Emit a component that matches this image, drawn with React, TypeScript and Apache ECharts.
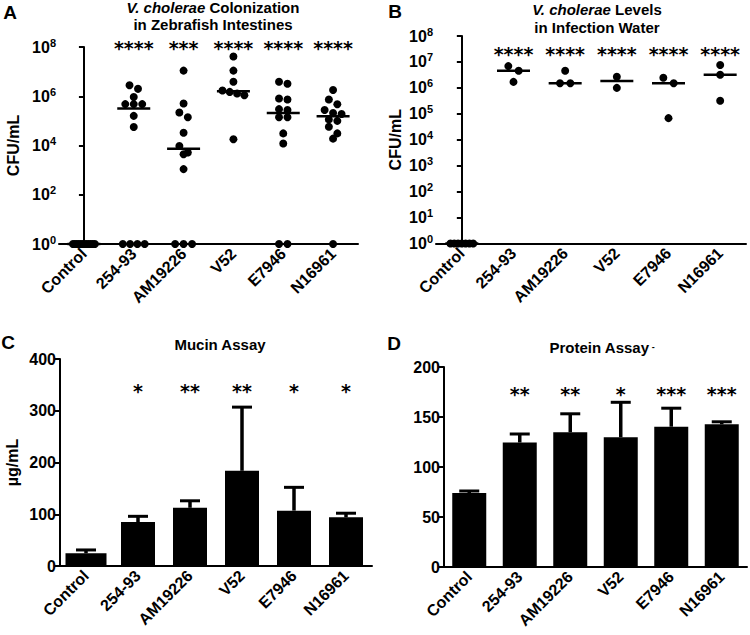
import React, { useEffect, useRef } from 'react';
import * as echarts from 'echarts';

// ---------- data ----------
const categories = ['Control', '254-93', 'AM19226', 'V52', 'E7946', 'N16961'];

// Panel A: CFU/mL in zebrafish intestines (undetected plotted at 10^0)
const colonControl = [1, 1, 1, 1, 1, 1, 1, 1, 1, 1, 1, 1];
const colon25493 = [2.8e6, 2.0e6, 9.3e5, 4.8e5, 4.8e5, 4.8e5, 1.6e5, 5.6e4, 1, 1, 1, 1];
const colonAM19226 = [1.1e7, 5.1e5, 2.2e5, 1.4e5, 3.3e4, 9.5e3, 5.2e3, 4.4e3, 1.1e3, 1, 1, 1];
const colonV52 = [4.1e7, 1.1e7, 3.9e6, 1.7e6, 1.5e6, 1.3e6, 1.1e6, 1.8e4];
const colonE7946 = [3.9e6, 3.2e6, 8.1e5, 7.4e5, 3.0e5, 2.75e5, 1.4e5, 1.4e5, 3.1e4, 1.2e4, 1, 1];
const colonN16961 = [1.8e6, 7.4e5, 4.7e5, 2.75e5, 2.1e5, 1.9e5, 1.15e5, 1.0e5, 5.8e4, 3.1e4, 1.9e4, 1];
const colonStars = ['', '****', '***', '****', '****', '****'];

// Panel B: CFU/mL in infection water
const waterControl = [1, 1, 1, 1, 1, 1, 1];
const water25493 = [6.9e6, 4.6e6, 1.7e6];
const waterAM19226 = [4.6e6, 1.5e6, 1.5e6];
const waterV52 = [2.7e6, 1.0e6];
const waterE7946 = [2.45e6, 1.5e6, 6.8e4];
const waterN16961 = [7.6e6, 3.2e6, 3.2e5];
const waterStars = ['', '****', '****', '****', '****', '****'];

// Panel C: mucin (µg/mL), mean and SD
const mucinMean = [24.5, 85, 112.5, 184, 107, 94];
const mucinSD = [6.5, 11, 13.5, 123, 45, 8];
const mucinStars = ['', '*', '**', '**', '*', '*'];

// Panel D: protein, mean and SD
const proteinMean = [74, 124.5, 134.7, 129.7, 140.3, 142.7];
const proteinSD = [2, 8.5, 18.5, 35, 18.5, 2.5];
const proteinStars = ['', '**', '**', '*', '***', '***'];

const colonization = [colonControl, colon25493, colonAM19226, colonV52, colonE7946, colonN16961];
const water = [waterControl, water25493, waterAM19226, waterV52, waterE7946, waterN16961];

// ---------- helpers ----------
const FONT = '"Liberation Sans", Arial, Helvetica, sans-serif';
const STAR_FONT = '"DejaVu Sans", sans-serif';
const BLACK = '#000';

function median(vals: number[]) {
  const s = [...vals].sort((a, b) => a - b);
  const n = s.length;
  return n % 2 ? s[(n - 1) / 2] : (s[n / 2 - 1] + s[n / 2]) / 2;
}

// simple symmetric swarm: points closer than thr (in decades) share a row
function swarm(vals: number[], thr: number, step: number, maxHalf: number) {
  const logs = vals.map((v) => Math.log10(v));
  const idx = vals.map((_, i) => i).sort((a, b) => logs[b] - logs[a]);
  const off = new Array(vals.length).fill(0);
  let i = 0;
  while (i < idx.length) {
    let j = i + 1;
    while (j < idx.length && logs[idx[i]] - logs[idx[j]] < thr) j++;
    const n = j - i;
    const s = n > 1 ? Math.min(step, (2 * maxHalf) / (n - 1)) : 0;
    for (let k = 0; k < n; k++) off[idx[i + k]] = (k - (n - 1) / 2) * s;
    i = j;
  }
  return off;
}

const lineStyle = { color: BLACK, width: 2 };

function catAxis(gridIndex: number) {
  return {
    type: 'category',
    gridIndex,
    data: categories,
    axisLine: { lineStyle },
    axisTick: { alignWithLabel: true, length: 5, lineStyle },
    axisLabel: {
      interval: 0,
      rotate: 45,
      margin: 7,
      color: BLACK,
      fontFamily: FONT,
      fontWeight: 'bold',
      fontSize: 16,
    },
  };
}

function jitterAxis(gridIndex: number) {
  return { type: 'value', gridIndex, min: -0.5, max: 5.5, show: false };
}

const tickLabel = { color: BLACK, fontFamily: FONT, fontWeight: 'bold', fontSize: 16 };
const nameStyle = { color: BLACK, fontFamily: FONT, fontWeight: 'bold', fontSize: 16 };

function logAxis(gridIndex: number, interval: number, name: string, nameGap: number) {
  return {
    type: 'log',
    logBase: 10,
    gridIndex,
    min: 1,
    max: 1e8,
    interval,
    axisLine: { show: true, lineStyle },
    axisTick: { show: true, length: 5, lineStyle },
    splitLine: { show: false },
    minorTick: { show: false },
    axisLabel: {
      margin: 3,
      formatter: (v: number) => `{b|10}{s|${Math.round(Math.log10(v))}}`,
      rich: {
        b: { ...tickLabel, fontSize: 16, lineHeight: 20 },
        s: { ...tickLabel, fontSize: 11, lineHeight: 12, verticalAlign: 'top' },
      },
    },
    name,
    nameLocation: 'middle',
    nameGap,
    nameTextStyle: nameStyle,
  };
}

function linAxis(gridIndex: number, max: number, interval: number, name: string, nameGap: number) {
  return {
    type: 'value',
    gridIndex,
    min: 0,
    max,
    interval,
    axisLine: { show: true, lineStyle },
    axisTick: { show: true, length: 5, lineStyle },
    splitLine: { show: false },
    axisLabel: { ...tickLabel, margin: 4 },
    name,
    nameLocation: 'middle',
    nameGap,
    nameTextStyle: nameStyle,
  };
}

function dotSeries(groups: number[][], xAxisIndex: number, yAxisIndex: number, step: number) {
  const data: number[][] = [];
  groups.forEach((vals, gi) => {
    const off = swarm(vals, 0.28, step, 0.22);
    vals.forEach((v, k) => data.push([gi + off[k], v]));
  });
  return {
    type: 'scatter',
    xAxisIndex,
    yAxisIndex,
    data,
    symbol: 'circle',
    symbolSize: 8,
    itemStyle: { color: BLACK, opacity: 1 },
    clip: false,
    z: 4,
  };
}

function medianSeries(groups: number[][], xAxisIndex: number, yAxisIndex: number) {
  return {
    type: 'scatter',
    xAxisIndex,
    yAxisIndex,
    data: groups.map((g, i) => [i, median(g)]),
    symbol: 'rect',
    symbolSize: [33, 2.5],
    itemStyle: { color: BLACK, opacity: 1 },
    clip: false,
    z: 3,
  };
}

function starSeries(stars: string[], yVal: number, xAxisIndex: number, yAxisIndex: number) {
  return {
    type: 'custom',
    xAxisIndex,
    yAxisIndex,
    encode: { x: 0, y: 1 },
    data: categories.map((_, i) => [i, yVal]),
    clip: false,
    silent: true,
    renderItem: (params: any, api: any) => {
      const p = api.coord([api.value(0), api.value(1)]);
      return {
        type: 'text',
        x: p[0],
        y: p[1],
        style: {
          text: stars[params.dataIndex],
          fill: BLACK,
          fontFamily: STAR_FONT,
          fontWeight: 'bold',
          fontSize: 19,
          textAlign: 'center',
          align: 'center',
          textVerticalAlign: 'middle',
          verticalAlign: 'middle',
        },
      };
    },
    z: 5,
  };
}

function barSeries(means: number[], sds: number[], xAxisIndex: number, yAxisIndex: number, wideFirst: boolean) {
  return {
    type: 'custom',
    xAxisIndex,
    yAxisIndex,
    encode: { x: 0, y: [1, 2] },
    data: means.map((m, i) => [i, m, m + sds[i]]),
    clip: false,
    renderItem: (params: any, api: any) => {
      const i = api.value(0);
      const top = api.coord([i, api.value(1)]);
      const base = api.coord([i, 0]);
      const err = api.coord([i, api.value(2)]);
      const w = wideFirst && params.dataIndex === 0 ? 41 : 34;
      const cap = 20;
      return {
        type: 'group',
        children: [
          {
            type: 'rect',
            shape: { x: top[0] - w / 2, y: top[1], width: w, height: base[1] - top[1] },
            style: { fill: BLACK },
          },
          {
            type: 'line',
            shape: { x1: top[0], y1: top[1], x2: top[0], y2: err[1] },
            style: { stroke: BLACK, lineWidth: 3.5 },
          },
          {
            type: 'line',
            shape: { x1: top[0] - cap / 2, y1: err[1], x2: top[0] + cap / 2, y2: err[1] },
            style: { stroke: BLACK, lineWidth: 3 },
          },
        ],
      };
    },
    z: 2,
  };
}

function textEl(x: number, y: number, text: string, fontSize: number, extra: any = {}) {
  return {
    type: 'text',
    x,
    y,
    style: {
      text,
      fill: BLACK,
      fontFamily: FONT,
      fontWeight: 'bold',
      fontSize,
      textAlign: 'center',
      align: 'center',
      textVerticalAlign: 'middle',
      verticalAlign: 'middle',
      ...extra,
    },
  };
}

const titleRich = {
  i: { fontFamily: FONT, fontWeight: 'bold', fontStyle: 'italic', fontSize: 15, fill: BLACK, color: BLACK },
  n: { fontFamily: FONT, fontWeight: 'bold', fontSize: 15, fill: BLACK, color: BLACK },
  m: { fontFamily: FONT, fontWeight: 'bold', fontSize: 9, fill: BLACK, color: BLACK },
};

function buildOption() {
  return {
    animation: false,
    backgroundColor: '#fff',
    textStyle: { fontFamily: FONT },
    grid: [
      { left: 59, top: 47, width: 299, height: 197 },
      { left: 436, top: 36, width: 310, height: 207.5 },
      { left: 60, top: 359, width: 312, height: 207 },
      { left: 444, top: 367, width: 303, height: 200 },
    ],
    xAxis: [
      catAxis(0),
      jitterAxis(0),
      catAxis(1),
      jitterAxis(1),
      catAxis(2),
      catAxis(3),
    ],
    yAxis: [
      logAxis(0, 2, 'CFU/mL', 38),
      logAxis(1, 1, 'CFU/mL', 33),
      linAxis(2, 400, 100, '\u00b5g/mL', 40),
      linAxis(3, 200, 50, '', 30),
    ],
    series: [
      medianSeries(colonization, 0, 0),
      dotSeries(colonization, 1, 0, 0.17),
      starSeries(colonStars, 9e7, 0, 0),
      medianSeries(water, 2, 1),
      dotSeries(water, 3, 1, 0.2),
      starSeries(waterStars, 2.1e7, 2, 1),
      barSeries(mucinMean, mucinSD, 4, 2, true),
      starSeries(mucinStars, 339, 4, 2),
      barSeries(proteinMean, proteinSD, 5, 3, false),
      starSeries(proteinStars, 173.5, 5, 3),
    ],
    graphic: [
      textEl(10, 12, 'A', 19),
      textEl(395, 11, 'B', 19),
      textEl(8, 342, 'C', 19),
      textEl(394, 343, 'D', 19),
      textEl(213, 16, '{i|V. cholerae}{n| Colonization}\n{n|in Zebrafish Intestines}', 15, {
        rich: titleRich,
        lineHeight: 17,
      }),
      textEl(597, 18, '{i|V. cholerae}{n| Levels}\n{n|in Infection Water}', 15, {
        rich: titleRich,
        lineHeight: 18,
      }),
      textEl(220, 344, 'Mucin Assay', 15),
      textEl(602, 347, '{n|Protein Assay}{m| -}', 15, { rich: titleRich }),
    ],
  };
}

export default function App() {
  const ref = useRef<HTMLDivElement>(null);
  useEffect(() => {
    if (!ref.current) return;
    const chart = echarts.init(ref.current, undefined, { renderer: 'svg' });
    chart.setOption(buildOption() as any);
    return () => chart.dispose();
  }, []);
  return (
    <div
      ref={ref}
      style={{ position: 'absolute', left: 0, top: 0, width: 750, height: 635, background: '#fff' }}
    />
  );
}
